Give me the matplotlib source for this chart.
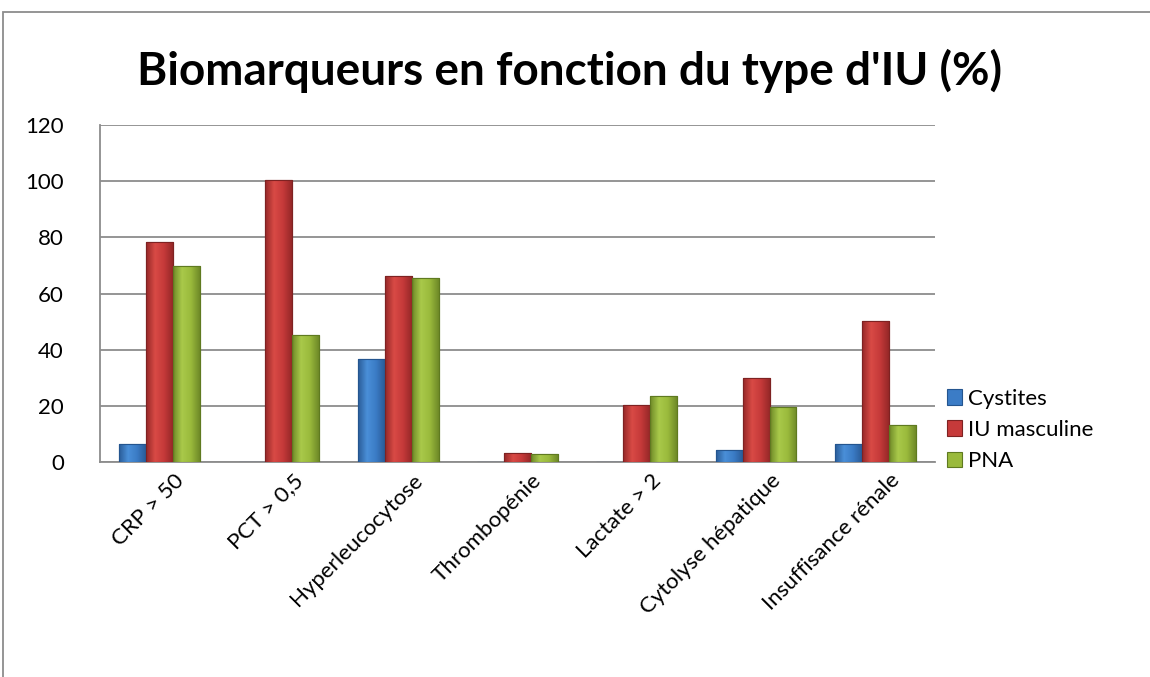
import matplotlib.pyplot as plt
import numpy as np
from matplotlib.patches import Rectangle
from matplotlib.colors import LinearSegmentedColormap
import matplotlib.transforms as mtransforms

plt.rcParams['font.family'] = ['Lato', 'DejaVu Sans']

categories = ['CRP > 50', 'PCT > 0,5', 'Hyperleucocytose', 'Thrombopénie',
              'Lactate > 2', 'Cytolyse hépatique', 'Insuffisance rénale']
cystites = [6.4, 0, 36.6, 0, 0, 4.3, 6.4]
iu_masculine = [78.2, 100.5, 66.1, 3.1, 20.2, 29.8, 50.4]
pna = [69.9, 45.1, 65.4, 2.7, 23.4, 19.5, 13.1]
series_names = ['Cystites', 'IU masculine', 'PNA']

colors = ['#3b7cc6', '#c63a3a', '#9aba3c']
lights = ['#4a8fd8', '#d84a45', '#a9c94a']
darks = ['#2a5c98', '#962828', '#6f8a28']
edges = ['#24558f', '#7e2222', '#5f7a20']

fig = plt.figure(figsize=(11.5, 6.77), dpi=100)
ax = fig.add_axes([0.087, 0.3176, 0.726, 0.4975])

x = np.arange(len(categories))
w = 0.226
grad = np.linspace(0, 1, 64).reshape(1, -1)
for i, vals in enumerate([cystites, iu_masculine, pna]):
    bars = ax.bar(x + (i - 1) * w, vals, width=w, color=colors[i], edgecolor=edges[i],
                  linewidth=0.8, label=series_names[i], zorder=3)
    cmap = LinearSegmentedColormap.from_list('b%d' % i, [darks[i], lights[i], colors[i], darks[i]])
    for b in bars:
        if b.get_height() <= 0:
            continue
        bx, by = b.get_x(), b.get_y()
        im = ax.imshow(grad, cmap=cmap, aspect='auto', zorder=3.5,
                       extent=(bx, bx + b.get_width(), by, by + b.get_height()))
        im.set_clip_path(b)
        ax.add_patch(Rectangle((bx, by), b.get_width(), b.get_height(), fill=False,
                               edgecolor=edges[i], linewidth=0.8, zorder=4))

ax.set_xlim(-0.5, len(categories) - 0.5)
ax.set_ylim(0, 120)
ax.set_aspect('auto')
ax.set_yticks(np.arange(0, 121, 20))
ax.yaxis.grid(True, color='#8c8c8c', linewidth=1.3, zorder=0)
ax.set_axisbelow(True)
for s in ['top', 'right']:
    ax.spines[s].set_visible(False)
for s in ['left', 'bottom']:
    ax.spines[s].set_color('#8c8c8c')
    ax.spines[s].set_linewidth(1.3)
ax.tick_params(axis='y', length=0, labelsize=16, pad=26)
ax.tick_params(axis='x', length=0, labelsize=16, pad=6)
ax.set_xticks(x)
ax.set_xticklabels(categories, rotation=45, ha='right', rotation_mode='anchor')
offset = mtransforms.ScaledTranslation(14 / 100, 0, fig.dpi_scale_trans)
for lab in ax.get_xticklabels():
    lab.set_transform(lab.get_transform() + offset)

fig.text(0.495, 0.895, "Biomarqueurs en fonction du type d'IU (%)",
         ha='center', va='center', fontsize=33, fontweight='bold')

ax.legend(loc='center left', bbox_to_anchor=(0.99, 0.095), frameon=False,
          fontsize=16, handlelength=0.7, handleheight=0.7, handletextpad=0.25,
          labelspacing=0.5)

fig.add_artist(Rectangle((0.003, -0.01), 1.1, 0.992, transform=fig.transFigure,
                         fill=False, edgecolor='#8c8c8c', linewidth=1.3))

fig.savefig('out.png', dpi=100)
